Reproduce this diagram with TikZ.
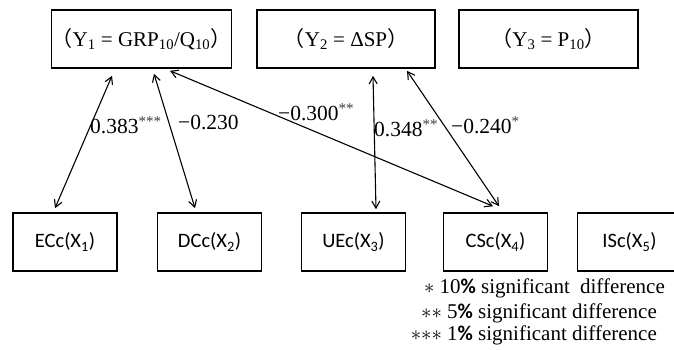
\documentclass[tikz,border=0pt]{standalone}
\usepackage{fontspec}
\setmainfont{Liberation Serif}
\newfontfamily\carlito{Carlito}
\newfontfamily\cjk{Noto Sans CJK SC}
\usetikzlibrary{arrows.meta}

\tikzset{
  ybox/.style={draw,line width=1.6pt,minimum width=#1,minimum height=58pt,inner sep=0pt,font=\fontsize{21}{25}\selectfont},
  xbox/.style={draw,line width=1.6pt,minimum width=104pt,minimum height=58pt,inner sep=0pt,font=\carlito\fontsize{20.5}{24}\selectfont},
  link/.style={{Straight Barb[length=7pt,width=8pt]}-{Straight Barb[length=7pt,width=8pt]},line width=1.1pt},
  coef/.style={anchor=west,inner sep=0pt,font=\fontsize{21.5}{25}\selectfont},
  note/.style={anchor=east,inner sep=0pt,font=\fontsize{21}{25}\selectfont}
}
\newcommand{\lpar}{{\cjk （}}
\newcommand{\rpar}{{\cjk ）}}
\newcommand{\pct}{{\carlito\bfseries\%}}
\newcommand{\sig}[1]{\textsuperscript{\color{black!75}#1}}

\begin{document}
\begin{tikzpicture}[x=1pt,y=-1pt]
\useasboundingbox (0,0) rectangle (674,349);

% dependent variables
\node[ybox=177pt] (y1) at (141.5,39) {\lpar Y\textsubscript{1} = GRP\textsubscript{10}/Q\textsubscript{10}\rpar};
\node[ybox=178pt] (y2) at (346,39) {\lpar Y\textsubscript{2} = ΔSP\rpar};
\node[ybox=179pt] (y3) at (548.5,39) {\lpar Y\textsubscript{3} = P\textsubscript{10}\rpar};

% explanatory variables
\node[xbox] (x1) at (65,242) {ECc(X\textsubscript{1})};
\node[xbox] (x2) at (209.5,242) {DCc(X\textsubscript{2})};
\node[xbox] (x3) at (353.5,242) {UEc(X\textsubscript{3})};
\node[xbox] (x4) at (495.5,242) {CSc(X\textsubscript{4})};
\node[xbox] (x5) at (629.5,242) {ISc(X\textsubscript{5})};

% correlations
\draw[link] ([xshift=-29.5pt,yshift=-7pt]y1.south) -- ([xshift=-10pt,yshift=4pt]x1.north);
\draw[link] ([xshift=12.5pt,yshift=-5pt]y1.south) -- ([xshift=-14.5pt,yshift=4pt]x2.north);
\draw[link] ([xshift=28.5pt,yshift=-2pt]y1.south) -- ([xshift=-2.5pt,yshift=6pt]x4.north);
\draw[link] ([xshift=27pt,yshift=-7pt]y2.south) -- ([xshift=22.5pt,yshift=3pt]x3.north);
\draw[link] ([xshift=61pt,yshift=-2pt]y2.south) -- ([xshift=3.5pt,yshift=6pt]x4.north);

\node[coef] (c1) at (90,125) {0.383\sig{***}};
\node[coef] (c2) at (178,122) {−0.230};
\node[coef] (c3) at (278,112) {−0.300\sig{**}};
\node[coef] (c4) at (374,128) {0.348\sig{**}};
\node[coef] (c5) at (451,125) {−0.240\sig{*}};

% significance
\node[note] (n1) at (665,288) {${\ast}$ 10\pct{} significant\hspace{5pt} difference};
\node[note] (n2) at (657,313) {${\ast}{\ast}$ 5\pct{} significant difference};
\node[note] (n3) at (657,335) {${\ast}{\ast}{\ast}$ 1\pct{} significant difference};
\end{tikzpicture}
\end{document}
